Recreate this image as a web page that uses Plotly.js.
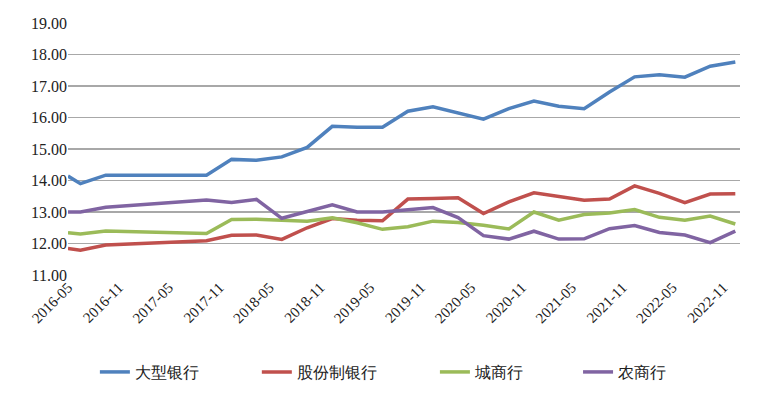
<!DOCTYPE html>
<html>
<head>
<meta charset="utf-8">
<script src="https://cdn.plot.ly/plotly-3.0.1.min.js"></script>
<style>
html,body{margin:0;padding:0;background:#fff;}
#chart{width:765px;height:401px;}
</style>
</head>
<body>
<div id="chart"></div>
<script>
// Observation dates (first point at axis start, then quarterly)
const dates = ["2016-05-01","2016-06-15","2016-09-15","2017-09-15","2017-12-15","2018-03-15","2018-06-15","2018-09-15","2018-12-15","2019-03-15","2019-06-15","2019-09-15","2019-12-15","2020-03-15","2020-06-15","2020-09-15","2020-12-15","2021-03-15","2021-06-15","2021-09-15","2021-12-15","2022-03-15","2022-06-15","2022-09-15","2022-12-15"];
const seriesNames = ["大型银行","股份制银行","城商行","农商行"];
const largeBanks = [14.14,13.90,14.17,14.17,14.67,14.64,14.75,15.05,15.72,15.69,15.69,16.20,16.34,16.16,15.95,16.28,16.52,16.36,16.28,16.81,17.29,17.36,17.28,17.63,17.76];
const jointStockBanks = [11.84,11.79,11.95,12.09,12.26,12.27,12.13,12.50,12.79,12.74,12.72,13.41,13.43,13.45,12.95,13.32,13.61,13.48,13.37,13.41,13.83,13.59,13.30,13.57,13.58];
const cityBanks = [12.34,12.30,12.40,12.32,12.76,12.77,12.74,12.71,12.82,12.66,12.45,12.53,12.71,12.67,12.58,12.46,13.00,12.74,12.92,12.97,13.08,12.83,12.74,12.87,12.62];
const ruralBanks = [13.00,13.00,13.15,13.38,13.30,13.40,12.80,13.03,13.23,13.00,13.00,13.07,13.14,12.82,12.25,12.14,12.39,12.14,12.15,12.47,12.57,12.35,12.27,12.03,12.39];

const colors = ["#4F81BD","#C0504D","#9BBB59","#8064A2"];
const values = [largeBanks, jointStockBanks, cityBanks, ruralBanks];
const legendIds = ["legend","legend2","legend3","legend4"];
const legendX = [0.040, 0.281, 0.546, 0.759];

const traces = values.map((v,i)=>({
  type:"scatter", mode:"lines", x:dates, y:v, name:seriesNames[i],
  line:{color:colors[i], width:3.5}, legend:legendIds[i], hoverinfo:"skip"
}));

const fontFam = "Liberation Serif";
const layout = {
  width:765, height:401,
  margin:{l:68, r:25, t:23, b:126},
  paper_bgcolor:"#fff", plot_bgcolor:"#fff",
  font:{family:fontFam, size:16, color:"#222"},
  xaxis:{
    type:"date", range:["2016-05-01","2023-01-01"],
    tick0:"2016-05-01", dtick:"M6", tickformat:"%Y-%m",
    tickangle:-45, showgrid:false, zeroline:false, showline:false,
    ticks:"", tickfont:{family:fontFam, size:15, color:"#222"}
  },
  yaxis:{
    range:[11,19], dtick:1, tickformat:".2f",
    showgrid:true, gridcolor:"#a8a8a8", gridwidth:1.3,
    zeroline:false, showline:false, ticks:"",
    tickfont:{family:fontFam, size:16, color:"#222"}
  },
  showlegend:true
};
legendIds.forEach((id,i)=>{
  layout[id] = {orientation:"h", x:legendX[i], xanchor:"left", y:-0.385, yanchor:"middle",
    bgcolor:"rgba(0,0,0,0)", borderwidth:0,
    font:{family:fontFam, size:16, color:"#222"}};
});

Plotly.newPlot("chart", traces, layout, {displayModeBar:false, staticPlot:true}).then(gd=>{
  gd.querySelectorAll("text").forEach(t=>{
    t.style.setProperty("font-family", "'Liberation Serif'", "important");
    t.setAttribute("font-family", "Liberation Serif");
  });
});
</script>
</body>
</html>
